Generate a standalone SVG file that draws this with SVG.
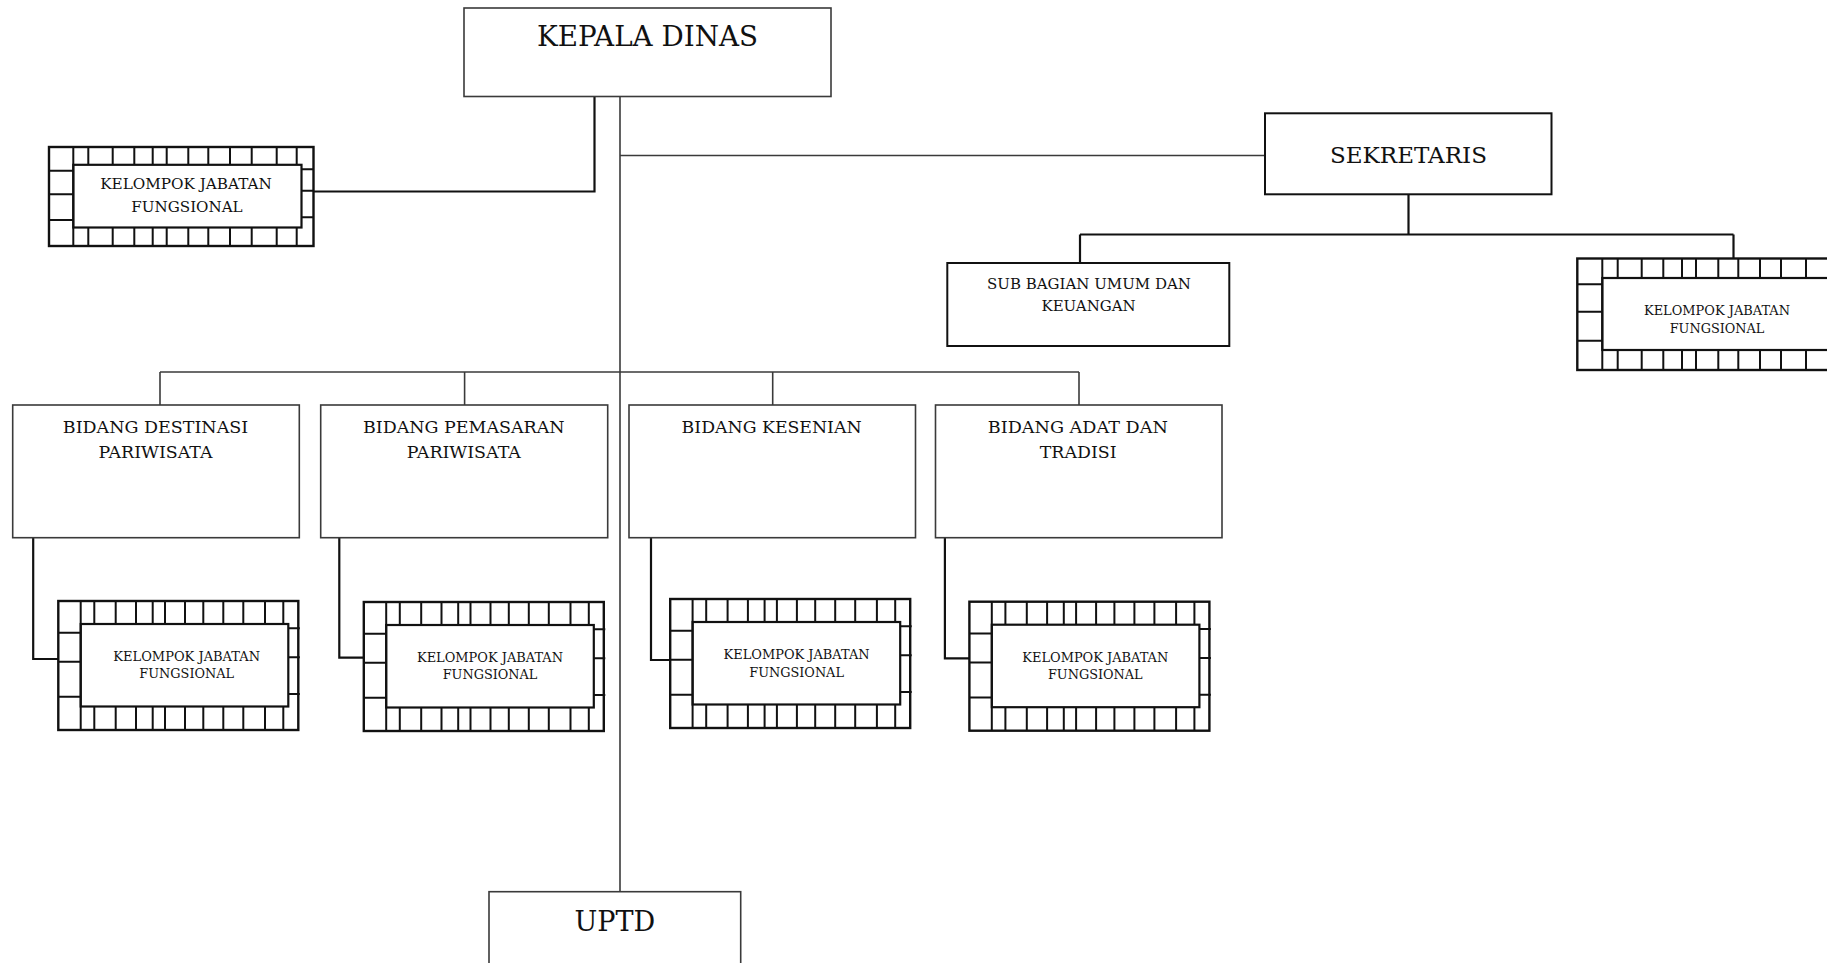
<svg xmlns="http://www.w3.org/2000/svg" width="1827" height="963" viewBox="0 0 1827 963">
  <style>
    .bg { fill: #ffffff; }
    .box { fill: #ffffff; stroke: #3a3a3a; stroke-width: 1.6; }
    .box-dark { fill: #ffffff; stroke: #111111; stroke-width: 2; }
    .frame { fill: #ffffff; stroke: #111111; stroke-width: 2.4; }
    .inner { fill: #ffffff; stroke: #111111; stroke-width: 2.2; }
    .tick { stroke: #111111; stroke-width: 2; fill: none; }
    .link { fill: none; stroke: #3a3a3a; stroke-width: 1.6; }
    .link-dark { fill: none; stroke: #111111; stroke-width: 2.2; }
    text { font-family: "DejaVu Serif", "Liberation Serif", serif; fill: #111111; text-anchor: middle; }
    .t-head { font-size: 27px; }
    .t-sek { font-size: 23px; }
    .t-bid { font-size: 17.4px; }
    .t-sub { font-size: 15px; }
    .t-jf-lg { font-size: 15.1px; }
    .t-jf { font-size: 12.85px; }
  </style>

  <rect class="bg" x="0" y="0" width="1827" height="963"/>

  <!-- connectors -->
  <g id="connectors">
    <path class="link-dark" d="M594.5 96.5 V191.5 H313.5"/>
    <path class="link" d="M620 96.5 V892"/>
    <path class="link" d="M620 155.5 H1265"/>
    <path class="link-dark" d="M1408.5 194.3 V234.5"/>
    <path class="link-dark" d="M1080 234.5 H1733.5"/>
    <path class="link-dark" d="M1080 234.5 V263"/>
    <path class="link-dark" d="M1733.5 234.5 V258.5"/>
    <path class="link" d="M160 372 H1079"/>
    <path class="link" d="M160 372 V405"/>
    <path class="link" d="M464.6 372 V405"/>
    <path class="link" d="M772.7 372 V405"/>
    <path class="link" d="M1079 372 V405"/>
    <path class="link-dark" d="M33.2 537.7 V659 H58.3"/>
    <path class="link-dark" d="M339.3 537.7 V657.7 H363.8"/>
    <path class="link-dark" d="M651 537.7 V660 H670.2"/>
    <path class="link-dark" d="M944.9 537.7 V658.3 H969.4"/>
  </g>

  <!-- head -->
  <g id="kepala-dinas">
    <rect class="box" x="464" y="8" width="367" height="88.5"/>
    <text class="t-head" x="647.5" y="45.5" textLength="221" lengthAdjust="spacingAndGlyphs">KEPALA DINAS</text>
  </g>

  <!-- functional group beside the head -->
  <g id="jf-kepala">
    <rect class="frame" x="49" y="147" width="264.5" height="99"/>
    <rect class="inner" x="73.3" y="164.8" width="228.2" height="62.7"/>
    <path class="tick" d="M73.3 147 V246
      M88.3 147 V164.8 M112.7 147 V164.8 M134.3 147 V164.8 M152.7 147 V164.8 M166.7 147 V164.8 M188.3 147 V164.8 M208.3 147 V164.8 M230 147 V164.8 M251.7 147 V164.8 M276.7 147 V164.8 M296.7 147 V164.8
      M88.3 227.5 V246 M112.7 227.5 V246 M134.3 227.5 V246 M152.7 227.5 V246 M166.7 227.5 V246 M188.3 227.5 V246 M208.3 227.5 V246 M230 227.5 V246 M251.7 227.5 V246 M276.7 227.5 V246 M296.7 227.5 V246
      M49 170.7 H73.3 M49 194.3 H73.3 M49 220 H73.3
      M301.5 169.3 H313.5 M301.5 190.7 H313.5 M301.5 217.3 H313.5"/>
    <text class="t-jf-lg" x="186" y="188.5" textLength="171.7" lengthAdjust="spacingAndGlyphs">KELOMPOK JABATAN</text>
    <text class="t-jf-lg" x="187" y="211.5">FUNGSIONAL</text>
  </g>

  <!-- secretary -->
  <g id="sekretaris">
    <rect class="box-dark" x="1265" y="113.3" width="286.5" height="81"/>
    <text class="t-sek" x="1408.5" y="162.7" textLength="157" lengthAdjust="spacingAndGlyphs">SEKRETARIS</text>
  </g>

  <g id="sub-bagian-umum">
    <rect class="box-dark" x="947.3" y="263" width="282" height="83"/>
    <text class="t-sub" x="1089" y="289" textLength="204" lengthAdjust="spacingAndGlyphs">SUB BAGIAN UMUM DAN</text>
    <text class="t-sub" x="1088.6" y="310.7">KEUANGAN</text>
  </g>

  <!-- functional group under the secretary (runs past the right edge) -->
  <g id="jf-sekretaris">
    <rect class="frame" x="1577.3" y="258.5" width="268" height="111.5"/>
    <rect class="inner" x="1602.3" y="278" width="230" height="72"/>
    <path class="tick" d="M1602.3 258.5 V370
      M1617.7 258.5 V278 M1641.7 258.5 V278 M1663.3 258.5 V278 M1682 258.5 V278 M1696 258.5 V278 M1718.3 258.5 V278 M1738.3 258.5 V278 M1760 258.5 V278 M1781 258.5 V278 M1806 258.5 V278
      M1617.7 350 V370 M1641.7 350 V370 M1663.3 350 V370 M1682 350 V370 M1696 350 V370 M1718.3 350 V370 M1738.3 350 V370 M1760 350 V370 M1781 350 V370 M1806 350 V370
      M1577.3 284.3 H1602.3 M1577.3 311.7 H1602.3 M1577.3 340.7 H1602.3"/>
    <text class="t-jf" x="1717" y="315" textLength="146" lengthAdjust="spacingAndGlyphs">KELOMPOK JABATAN</text>
    <text class="t-jf" x="1717" y="333.3">FUNGSIONAL</text>
  </g>

  <!-- divisions -->
  <g id="bidang-destinasi">
    <rect class="box" x="12.7" y="405" width="286.6" height="132.7"/>
    <text class="t-bid" x="155.5" y="433.3" textLength="185.4" lengthAdjust="spacingAndGlyphs">BIDANG DESTINASI</text>
    <text class="t-bid" x="155.5" y="458.3">PARIWISATA</text>
  </g>
  <g id="bidang-pemasaran">
    <rect class="box" x="320.7" y="405" width="287" height="132.7"/>
    <text class="t-bid" x="463.8" y="433.3" textLength="201.6" lengthAdjust="spacingAndGlyphs">BIDANG PEMASARAN</text>
    <text class="t-bid" x="463.8" y="458.3">PARIWISATA</text>
  </g>
  <g id="bidang-kesenian">
    <rect class="box" x="629" y="405" width="286.5" height="132.7"/>
    <text class="t-bid" x="771.6" y="433.3" textLength="180" lengthAdjust="spacingAndGlyphs">BIDANG KESENIAN</text>
  </g>
  <g id="bidang-adat">
    <rect class="box" x="935.5" y="405" width="286.5" height="132.7"/>
    <text class="t-bid" x="1077.8" y="433.3" textLength="180" lengthAdjust="spacingAndGlyphs">BIDANG ADAT DAN</text>
    <text class="t-bid" x="1078.2" y="458.3">TRADISI</text>
  </g>

  <!-- functional group frame, reused under each division -->
  <defs>
    <g id="jf-frame">
      <rect class="frame" x="0" y="0" width="240" height="129"/>
      <rect class="inner" x="22.4" y="23" width="207.6" height="82.5"/>
      <path class="tick" d="M22.4 0 V129
        M36 0 V23 M57.4 0 V23 M77.7 0 V23 M94.4 0 V23 M106.7 0 V23 M126.7 0 V23 M145 0 V23 M165 0 V23 M185 0 V23 M206.7 0 V23 M225 0 V23
        M36 105.5 V129 M57.4 105.5 V129 M77.7 105.5 V129 M94.4 105.5 V129 M106.7 105.5 V129 M126.7 105.5 V129 M145 105.5 V129 M165 105.5 V129 M185 105.5 V129 M206.7 105.5 V129 M225 105.5 V129
        M0 31.7 H22.4 M0 60.7 H22.4 M0 95.7 H22.4
        M230 27.3 H241.5 M230 56.3 H241.5 M230 93 H241.5"/>
    </g>
  </defs>

  <g id="jf-destinasi">
    <use href="#jf-frame" x="58.3" y="601"/>
    <text class="t-jf" x="186.7" y="661" textLength="146.7" lengthAdjust="spacingAndGlyphs">KELOMPOK JABATAN</text>
    <text class="t-jf" x="186.7" y="678.3">FUNGSIONAL</text>
  </g>
  <g id="jf-pemasaran">
    <use href="#jf-frame" x="363.8" y="602"/>
    <text class="t-jf" x="490" y="662.3" textLength="146" lengthAdjust="spacingAndGlyphs">KELOMPOK JABATAN</text>
    <text class="t-jf" x="490" y="679.3">FUNGSIONAL</text>
  </g>
  <g id="jf-kesenian">
    <use href="#jf-frame" x="670.2" y="599"/>
    <text class="t-jf" x="796.6" y="659.3" textLength="146" lengthAdjust="spacingAndGlyphs">KELOMPOK JABATAN</text>
    <text class="t-jf" x="796.6" y="677">FUNGSIONAL</text>
  </g>
  <g id="jf-adat">
    <use href="#jf-frame" x="969.4" y="601.7"/>
    <text class="t-jf" x="1095.3" y="661.7" textLength="146" lengthAdjust="spacingAndGlyphs">KELOMPOK JABATAN</text>
    <text class="t-jf" x="1095.3" y="679.3">FUNGSIONAL</text>
  </g>

  <!-- technical unit (continues below the page edge) -->
  <g id="uptd">
    <rect class="box" x="489" y="891.7" width="251.7" height="90"/>
    <text class="t-head" x="614.8" y="930.7" textLength="80.7" lengthAdjust="spacingAndGlyphs">UPTD</text>
  </g>
</svg>
